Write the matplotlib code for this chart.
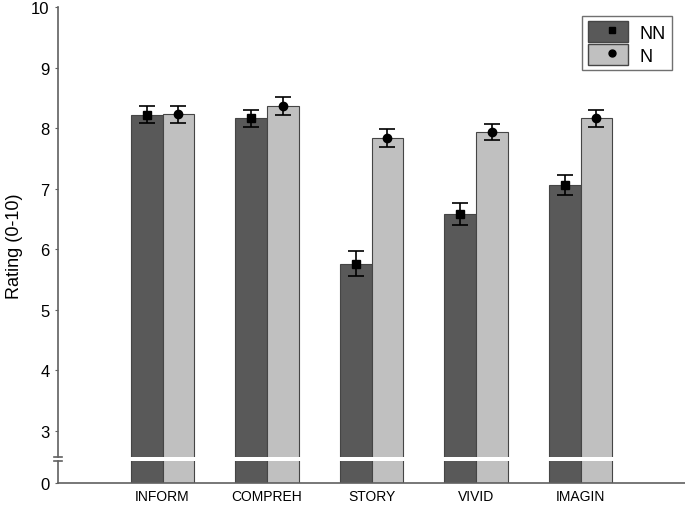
import numpy as np
import matplotlib.pyplot as plt
from matplotlib.patches import Patch
from matplotlib.lines import Line2D
from matplotlib.legend_handler import HandlerTuple

plt.rcParams['font.family'] = ['Liberation Sans', 'DejaVu Sans']

categories = ["INFORM", "COMPREH", "STORY", "VIVID", "IMAGIN"]
nn_mean = [8.22, 8.16, 5.76, 6.58, 7.06]
nn_err = [0.14, 0.14, 0.21, 0.18, 0.16]
n_mean = [8.23, 8.37, 7.84, 7.94, 8.16]
n_err = [0.14, 0.15, 0.15, 0.13, 0.14]

# broken axis: "0" sits at the bottom of the axis, real scale starts above the break
y_bottom = 2.14
break_lo, break_hi = 2.51, 2.57
ytick_vals = [y_bottom, 3, 4, 5, 6, 7, 8, 9, 10]
ytick_labels = ["0", "3", "4", "5", "6", "7", "8", "9", "10"]

dark = "#595959"
light = "#c0c0c0"
edge = "#454545"
axis_col = "#606060"

fig = plt.figure(figsize=(6.85, 5.06), dpi=100)
ax = fig.add_axes([58 / 685, 22 / 506, 1 - 58 / 685, 476 / 506])

x = np.arange(1, len(categories) + 1)
w = 0.306
nn_h = np.array(nn_mean) - y_bottom
n_h = np.array(n_mean) - y_bottom
ax.bar(x - w / 2, nn_h, w, bottom=y_bottom, color=dark, edgecolor=edge, linewidth=0.8, zorder=2)
ax.bar(x + w / 2, n_h, w, bottom=y_bottom, color=light, edgecolor=edge, linewidth=0.8, zorder=2)
ax.errorbar(x - w / 2, nn_mean, yerr=nn_err, fmt="s", color="black", ms=6,
            capsize=6, elinewidth=1.2, capthick=1.2, zorder=4)
ax.errorbar(x + w / 2, n_mean, yerr=n_err, fmt="o", color="black", ms=6,
            capsize=6, elinewidth=1.2, capthick=1.2, zorder=4)

# white break band across bars
ax.axhspan(break_lo, break_hi, color="white", zorder=3, lw=0)

ax.set_xlim(0, 6)
ax.set_ylim(y_bottom, 10)
ax.set_xticks(x)
ax.set_xticklabels(categories, fontsize=10)
ax.set_yticks(ytick_vals)
ax.set_yticklabels(ytick_labels, fontsize=12)
ax.tick_params(axis="x", length=0, pad=4)
ax.tick_params(axis="y", length=2, width=0.8, color=axis_col, pad=4)
ax.set_ylabel("Rating (0-10)", fontsize=13, labelpad=6)

for s in ["top", "right", "left"]:
    ax.spines[s].set_visible(False)
ax.spines["bottom"].set_color(axis_col)
ax.spines["bottom"].set_linewidth(1.2)

# left spine with a gap
kw = dict(color=axis_col, lw=1.2, clip_on=False, zorder=5)
ax.plot([0, 0], [y_bottom, break_lo], **kw)
ax.plot([0, 0], [break_hi, 10], **kw)
ax.plot([-0.04, 0.04], [break_lo, break_lo], **kw)
ax.plot([-0.04, 0.04], [break_hi, break_hi], **kw)

handles = [
    (Patch(facecolor=dark, edgecolor=edge), Line2D([], [], marker="s", color="black", ls="", ms=5)),
    (Patch(facecolor=light, edgecolor=edge), Line2D([], [], marker="o", color="black", ls="", ms=5)),
]
leg = ax.legend(handles, ["NN", "N"], handler_map={tuple: HandlerTuple(ndivide=None, pad=-2)},
                loc="upper right", bbox_to_anchor=(0.993, 1.0), fontsize=13, fancybox=False,
                edgecolor="#707070", framealpha=1, handlelength=2.5, handleheight=1.35,
                handletextpad=0.4, borderpad=0.3, labelspacing=0.15)
leg.get_frame().set_linewidth(1.0)

fig.savefig("out.png", dpi=100)
